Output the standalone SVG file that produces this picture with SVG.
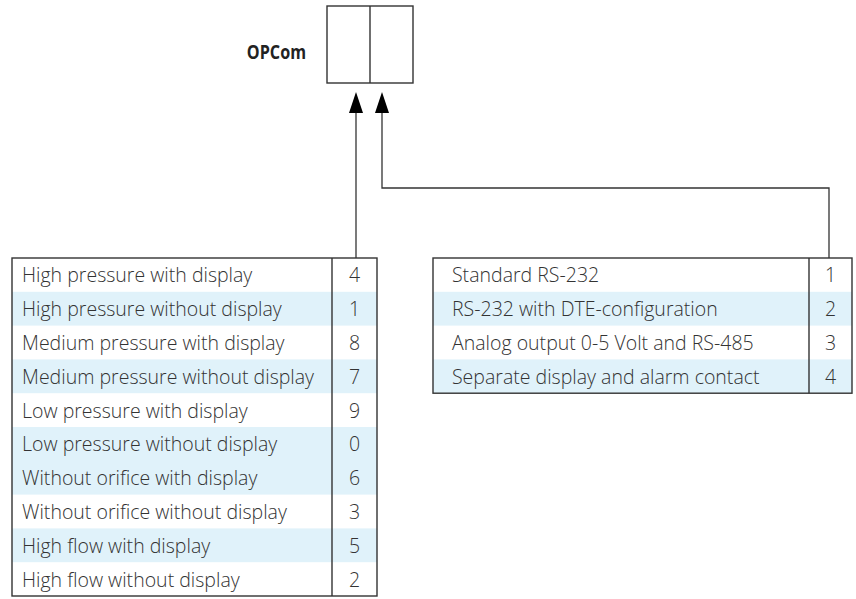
<svg xmlns="http://www.w3.org/2000/svg" width="856" height="599" viewBox="0 0 856 599">
<style>
.t{font-family:"Open Sans","Noto Sans","Liberation Sans",sans-serif;font-size:21px;font-weight:300;fill:#333}
.n{text-anchor:middle}
.b{font-family:"Open Sans","Noto Sans","Liberation Sans",sans-serif;font-size:19px;font-weight:bold;fill:#222;text-anchor:end}
.hl{fill:#e0f2fa}
.frame{fill:none;stroke:#333;stroke-width:1.4}
.conn{fill:none;stroke:#333;stroke-width:1.3}
.head{fill:#000}
</style>
<rect width="856" height="599" fill="#fff"/>
<g id="opcom">
<rect x="327" y="6" width="86" height="77" class="frame"/>
<line x1="370" y1="6" x2="370" y2="83" class="frame"/>
<text x="360" y="59" class="b" transform="scale(0.85 1)">OPCom</text>
</g>
<g id="connectors">
<polyline points="356,112 356,258" class="conn"/>
<polyline points="382,112 382,188 829,188 829,258" class="conn"/>
<polygon points="356,92 349,113 363,113" class="head"/>
<polygon points="382,92 375,113 389,113" class="head"/>
</g>
<g id="table-left">
<rect x="12" y="291.8" width="365" height="33.8" class="hl"/>
<rect x="12" y="359.4" width="365" height="33.8" class="hl"/>
<rect x="12" y="427" width="365" height="67.6" class="hl"/>
<rect x="12" y="528.4" width="365" height="33.8" class="hl"/>
<rect x="12" y="258" width="365" height="338" class="frame"/>
<line x1="332" y1="258" x2="332" y2="596" class="frame"/>
<g transform="scale(0.93 1)">
<text class="t" x="23.7" y="282.5">High pressure with display</text>
<text class="t" x="23.7" y="316.3">High pressure without display</text>
<text class="t" x="23.7" y="350.1">Medium pressure with display</text>
<text class="t" x="23.7" y="383.9">Medium pressure without display</text>
<text class="t" x="23.7" y="417.7">Low pressure with display</text>
<text class="t" x="23.7" y="451.5">Low pressure without display</text>
<text class="t" x="23.7" y="485.3">Without orifice with display</text>
<text class="t" x="23.7" y="519.1">Without orifice without display</text>
<text class="t" x="23.7" y="552.9">High flow with display</text>
<text class="t" x="23.7" y="586.7">High flow without display</text>
<text class="t n" x="381.2" y="282.5">4</text>
<text class="t n" x="381.2" y="316.3">1</text>
<text class="t n" x="381.2" y="350.1">8</text>
<text class="t n" x="381.2" y="383.9">7</text>
<text class="t n" x="381.2" y="417.7">9</text>
<text class="t n" x="381.2" y="451.5">0</text>
<text class="t n" x="381.2" y="485.3">6</text>
<text class="t n" x="381.2" y="519.1">3</text>
<text class="t n" x="381.2" y="552.9">5</text>
<text class="t n" x="381.2" y="586.7">2</text>
</g>
</g>
<g id="table-right">
<rect x="433" y="291.8" width="419" height="33.8" class="hl"/>
<rect x="433" y="359.4" width="419" height="33.8" class="hl"/>
<rect x="433" y="258" width="419" height="135.2" class="frame"/>
<line x1="809" y1="258" x2="809" y2="393.2" class="frame"/>
<g transform="scale(0.93 1)">
<text class="t" x="486" y="282.5">Standard RS-232</text>
<text class="t" x="486" y="316.3">RS-232 with DTE-configuration</text>
<text class="t" x="486" y="350.1">Analog output 0-5 Volt and RS-485</text>
<text class="t" x="486" y="383.9">Separate display and alarm contact</text>
<text class="t n" x="893" y="282.5">1</text>
<text class="t n" x="893" y="316.3">2</text>
<text class="t n" x="893" y="350.1">3</text>
<text class="t n" x="893" y="383.9">4</text>
</g>
</g>
</svg>
